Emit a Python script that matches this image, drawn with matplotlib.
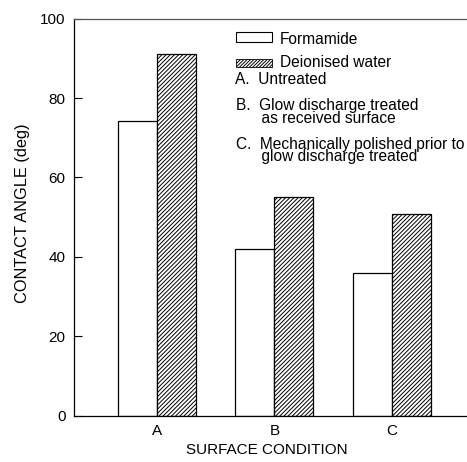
import matplotlib
matplotlib.use("Agg")
import matplotlib.pyplot as plt
from matplotlib.patches import Rectangle
import numpy as np

plt.rcParams['font.family'] = ['Liberation Sans', 'DejaVu Sans']
plt.rcParams['hatch.linewidth'] = 0.7

categories = ["A", "B", "C"]
formamide = [74.3, 42.0, 36.0]
water = [91.0, 55.0, 50.8]
yticks = [0, 20, 40, 60, 80, 100]

W, H = 467, 462
fig = plt.figure(figsize=(W / 100, H / 100), dpi=100)
ax = fig.add_axes([74 / W, 1 - 415.7 / H, 1 - 74 / W, (415.7 - 18.7) / H])

x = np.arange(len(categories))
bw = 0.331
ax.bar(x - bw / 2, formamide, width=bw, facecolor="white", edgecolor="black", linewidth=0.9)
ax.bar(x + bw / 2, water, width=bw, facecolor="white", edgecolor="black", linewidth=0.9,
       hatch="////////")

ax.set_xlim(-0.705, 2.64)
ax.set_ylim(0, 100)
ax.set_yticks(yticks)
ax.set_xticks(x)
ax.set_xticklabels(categories)
ax.tick_params(axis="y", direction="in", length=6, width=0.8, labelsize=11, pad=6)
ax.tick_params(axis="x", length=0, labelsize=11, pad=6)
ax.spines["right"].set_visible(False)
for s in ["left", "top", "bottom"]:
    ax.spines[s].set_linewidth(0.9)
ax.spines["top"].set_color("#555555")

fig.text(23 / W, 1 - 213 / H, "CONTACT ANGLE (deg)", rotation=90, ha="center", va="center", fontsize=11.8)
fig.text(267 / W, 1 - 450 / H, "SURFACE CONDITION", ha="center", va="center", fontsize=11)

# legend
def px(xp, yp):
    return xp / W, 1 - yp / H

fig.patches.append(Rectangle(px(236, 41.7), 36 / W, 10 / H, transform=fig.transFigure,
                             facecolor="white", edgecolor="black", linewidth=0.8))
fig.patches.append(Rectangle(px(236, 66.7), 36 / W, 7.5 / H, transform=fig.transFigure,
                             facecolor="white", edgecolor="black", linewidth=0.6, hatch="//////////"))
fs = 11.2
fig.text(*px(280, 40), "Formamide", ha="left", va="center", fontsize=fs)
fig.text(*px(280, 62.5), "Deionised water", ha="left", va="center", fontsize=fs)
fig.text(*px(235, 80), "A.  Untreated", ha="left", va="center", fontsize=fs)
fig.text(*px(236, 111.7), "B.  Glow discharge treated\n      as received surface",
         ha="left", va="center", fontsize=fs, linespacing=0.85)
fig.text(*px(236, 150.6), "C.  Mechanically polished prior to\n      glow discharge treated",
         ha="left", va="center", fontsize=fs, linespacing=0.8)

fig.savefig("out.png", dpi=100)
